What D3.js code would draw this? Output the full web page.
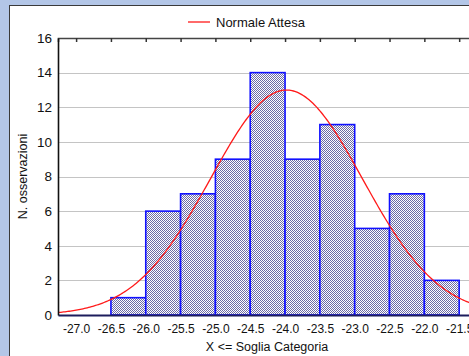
<!DOCTYPE html>
<html>
<head>
<meta charset="utf-8">
<script src="https://cdn.jsdelivr.net/npm/d3@7"></script>
<style>
  html, body { margin: 0; padding: 0; background: #b3c6e7; }
  svg { display: block; }
  text { font-family: "Liberation Sans", Arial, sans-serif; fill: #111; }
</style>
</head>
<body>
<svg id="chart" width="469" height="356"></svg>
<script>
// Histogram classes: upper bound of each class ("X <= soglia") and observed counts
const binLower = [-26.5, -26.0, -25.5, -25.0, -24.5, -24.0, -23.5, -23.0, -22.5, -22.0];
const binUpper = [-26.0, -25.5, -25.0, -24.5, -24.0, -23.5, -23.0, -22.5, -22.0, -21.5];
const counts   = [1, 6, 7, 9, 14, 9, 11, 5, 7, 2];

// Expected normal distribution parameters
const normalMean = -23.98;
const normalSd = 1.09;

// Axis ticks
const xTicks = [-27.0, -26.5, -26.0, -25.5, -25.0, -24.5, -24.0, -23.5, -23.0, -22.5, -22.0, -21.5];
const yTicks = [0, 2, 4, 6, 8, 10, 12, 14, 16];

const svg = d3.select("#chart");
const W = 469, H = 356;

// white chart panel
svg.append("rect")
  .attr("x", 9.5).attr("y", 5.5)
  .attr("width", W + 20).attr("height", H + 20)
  .attr("fill", "#fff").attr("stroke", "#3a3a3a").attr("stroke-width", 1);

const plot = { left: 58, top: 38, right: 494, bottom: 315 };

const x = d3.scaleLinear().domain([-27.26, -21.0]).range([plot.left, plot.right]);
const y = d3.scaleLinear().domain([0, 16]).range([plot.bottom, plot.top]);

// checkered fill for the bars
const defs = svg.append("defs");
const pat = defs.append("pattern")
  .attr("id", "checker").attr("patternUnits", "userSpaceOnUse")
  .attr("width", 2).attr("height", 2);
pat.append("rect").attr("width", 2).attr("height", 2).attr("fill", "#ffffff");
pat.append("rect").attr("x", 0).attr("y", 0).attr("width", 1).attr("height", 1).attr("fill", "#6c6ca6");
pat.append("rect").attr("x", 1).attr("y", 1).attr("width", 1).attr("height", 1).attr("fill", "#6c6ca6");

defs.append("clipPath").attr("id", "plotClip")
  .append("rect")
  .attr("x", plot.left).attr("y", plot.top)
  .attr("width", plot.right - plot.left).attr("height", plot.bottom - plot.top);

// horizontal gridlines
svg.append("g")
  .selectAll("line")
  .data(yTicks.filter(d => d > 0 && d < 16))
  .join("line")
  .attr("x1", plot.left).attr("x2", plot.right)
  .attr("y1", d => Math.round(y(d)) + 0.5).attr("y2", d => Math.round(y(d)) + 0.5)
  .attr("stroke", "#c4c4c4").attr("stroke-width", 1);

// bars
const bins = counts.map((c, i) => ({ lo: binLower[i], hi: binUpper[i], n: c }));
svg.append("g")
  .selectAll("rect")
  .data(bins)
  .join("rect")
  .attr("x", d => x(d.lo))
  .attr("y", d => y(d.n))
  .attr("width", d => x(d.hi) - x(d.lo))
  .attr("height", d => y(0) - y(d.n))
  .attr("fill", "url(#checker)")
  .attr("stroke", "#1010ff")
  .attr("stroke-width", 1.6);

// expected normal curve, scaled to counts per class width
const total = d3.sum(counts);
const classWidth = binUpper[0] - binLower[0];
const density = v => total * classWidth / (normalSd * Math.sqrt(2 * Math.PI)) *
  Math.exp(-((v - normalMean) ** 2) / (2 * normalSd * normalSd));
const curveX = d3.range(x.domain()[0], x.domain()[1] + 0.001, 0.02);
svg.append("path")
  .attr("clip-path", "url(#plotClip)")
  .datum(curveX)
  .attr("fill", "none")
  .attr("stroke", "#ff1a1a")
  .attr("stroke-width", 1.3)
  .attr("d", d3.line().x(d => x(d)).y(d => y(density(d))));

// top axis (tick marks only)
const topAxis = d3.axisTop(x).tickValues(xTicks).tickSize(-4).tickFormat("");
const gTop = svg.append("g").attr("transform", `translate(0,${plot.top})`).call(topAxis);
gTop.select(".domain").attr("stroke", "#444").attr("stroke-width", 1.6);
gTop.selectAll(".tick line").attr("stroke", "#333").attr("stroke-width", 1.5);

// bottom axis
const bottomAxis = d3.axisBottom(x).tickValues(xTicks).tickSize(0).tickPadding(9)
  .tickFormat(d => d3.format(".1f")(d).replace("−", "-"));
const gBottom = svg.append("g").attr("transform", `translate(0,${plot.bottom})`).call(bottomAxis);
gBottom.select(".domain").attr("stroke", "#1c1c5c").attr("stroke-width", 2);
gBottom.selectAll("text").attr("font-size", 12).attr("font-family", "Liberation Sans, Arial, sans-serif").attr("fill", "#111");

// left axis
const leftAxis = d3.axisLeft(y).tickValues(yTicks).tickSize(0).tickPadding(6);
const gLeft = svg.append("g").attr("transform", `translate(${plot.left},0)`).call(leftAxis);
gLeft.select(".domain").attr("stroke", "#111").attr("stroke-width", 1.6);
gLeft.selectAll("text").attr("font-size", 13.5).attr("font-family", "Liberation Sans, Arial, sans-serif").attr("fill", "#111");

// axis titles
svg.append("text")
  .attr("x", 267).attr("y", 351)
  .attr("text-anchor", "middle").attr("font-size", 12.5)
  .text("X <= Soglia Categoria");

svg.append("text")
  .attr("transform", `translate(27,${(plot.top + plot.bottom) / 2}) rotate(-90)`)
  .attr("text-anchor", "middle").attr("font-size", 12.5)
  .text("N. osservazioni");

// legend
const legend = svg.append("g");
legend.append("line")
  .attr("x1", 188).attr("x2", 210).attr("y1", 22).attr("y2", 22)
  .attr("stroke", "#ff1a1a").attr("stroke-width", 1.3);
legend.append("text")
  .attr("x", 216).attr("y", 27)
  .attr("font-size", 13)
  .text("Normale Attesa");
</script>
</body>
</html>
